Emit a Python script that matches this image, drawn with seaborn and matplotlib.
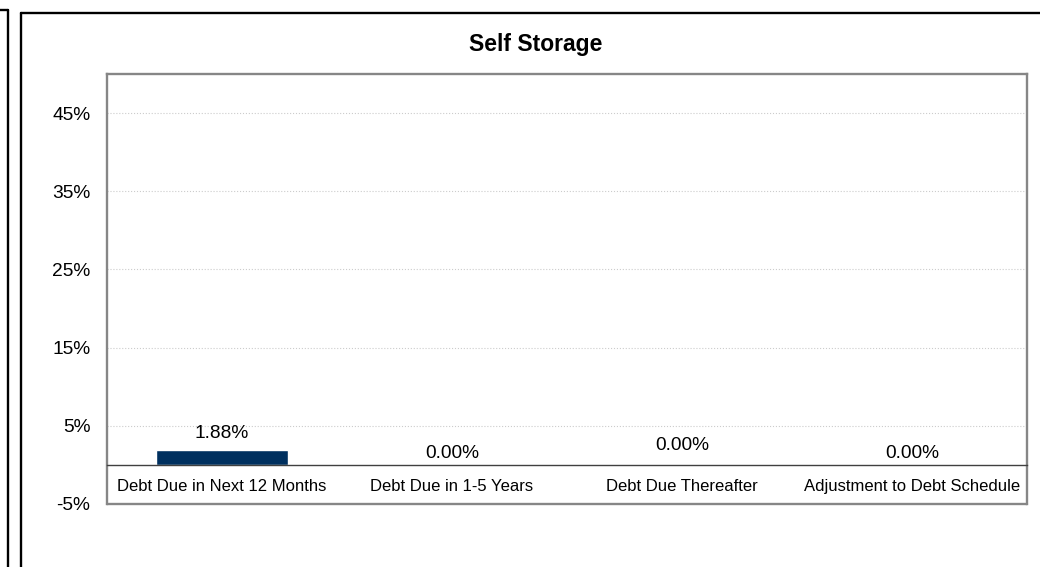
#!/usr/bin/env python3
"""Self Storage debt maturity bar chart."""

import matplotlib.pyplot as plt
from matplotlib.lines import Line2D
from matplotlib.ticker import FuncFormatter
import pandas as pd
import seaborn as sns


TITLE = "Self Storage"
CATEGORIES = [
    "Debt Due in Next 12 Months",
    "Debt Due in 1-5 Years",
    "Debt Due Thereafter",
    "Adjustment to Debt Schedule",
]
VALUES = [1.88, 0.00, 0.00, 0.00]
Y_TICKS = [-5, 5, 15, 25, 35, 45]

BAR_COLOR = "#00305f"
FRAME_GRAY = "#868686"
LABEL_OFFSETS = [6, 2, 8, 2]  # points above bar top, as in the source

W, H = 1040, 567


def _px(x, y):
    return x / W, 1 - y / H


def _draw_frames(fig) -> None:
    lw = 1.7
    # corner of the neighbouring chart on the left
    x0, y0 = _px(7.5, 10)
    fig.add_artist(Line2D([x0, x0], [y0, -0.05], color="black", lw=lw))
    fig.add_artist(Line2D([-0.05, x0], [y0, y0], color="black", lw=lw))
    # frame of this chart
    x1, y1 = _px(20.5, 12.5)
    fig.add_artist(Line2D([x1, x1], [y1, -0.05], color="black", lw=lw))
    fig.add_artist(Line2D([x1, 1.05], [y1, y1], color="black", lw=lw))


def main() -> None:
    sns.set_theme(style="white")
    plt.rcParams["font.family"] = ["Liberation Sans", "DejaVu Sans"]
    plt.rcParams["text.color"] = "black"

    df = pd.DataFrame({"category": CATEGORIES, "value": VALUES})

    fig = plt.figure(figsize=(W / 100, H / 100), dpi=100)
    ax = fig.add_axes([107 / W, 1 - 504 / H, 920 / W, 430 / H])

    sns.barplot(
        data=df,
        x="category",
        y="value",
        color=BAR_COLOR,
        saturation=1,
        width=0.57,
        ax=ax,
    )

    ax.set_ylim(-5, 50)
    ax.set_yticks(Y_TICKS)
    ax.yaxis.set_major_formatter(FuncFormatter(lambda v, _: f"{v:.0f}%"))
    ax.yaxis.grid(True, linestyle=":", color="#cccccc", linewidth=0.8)
    ax.set_axisbelow(True)
    ax.set_xlabel("")
    ax.set_ylabel("")

    for side in ("left", "right", "top"):
        ax.spines[side].set_color(FRAME_GRAY)
        ax.spines[side].set_linewidth(1.7)
    ax.spines["bottom"].set_position(("data", 0))
    ax.spines["bottom"].set_color("#404040")
    ax.spines["bottom"].set_linewidth(1.0)
    ax.axhline(-5, color=FRAME_GRAY, linewidth=1.7, clip_on=False, zorder=5)

    ax.tick_params(axis="x", length=0, pad=10, labelsize=12, colors="black")
    ax.tick_params(axis="y", length=0, pad=12, labelsize=13.8, colors="black")

    for patch, val, off in zip(ax.patches, VALUES, LABEL_OFFSETS):
        ax.annotate(
            f"{val:.2f}%",
            xy=(patch.get_x() + patch.get_width() / 2, patch.get_height()),
            xytext=(0, off),
            textcoords="offset points",
            ha="center",
            va="bottom",
            fontsize=13.8,
            color="black",
        )

    tx, ty = _px(536, 45)
    fig.text(tx, ty, TITLE, ha="center", va="center", fontsize=16.5,
             fontweight="bold", color="black")

    _draw_frames(fig)

    fig.savefig("out.png", dpi=100)
    plt.close(fig)


if __name__ == "__main__":
    main()
